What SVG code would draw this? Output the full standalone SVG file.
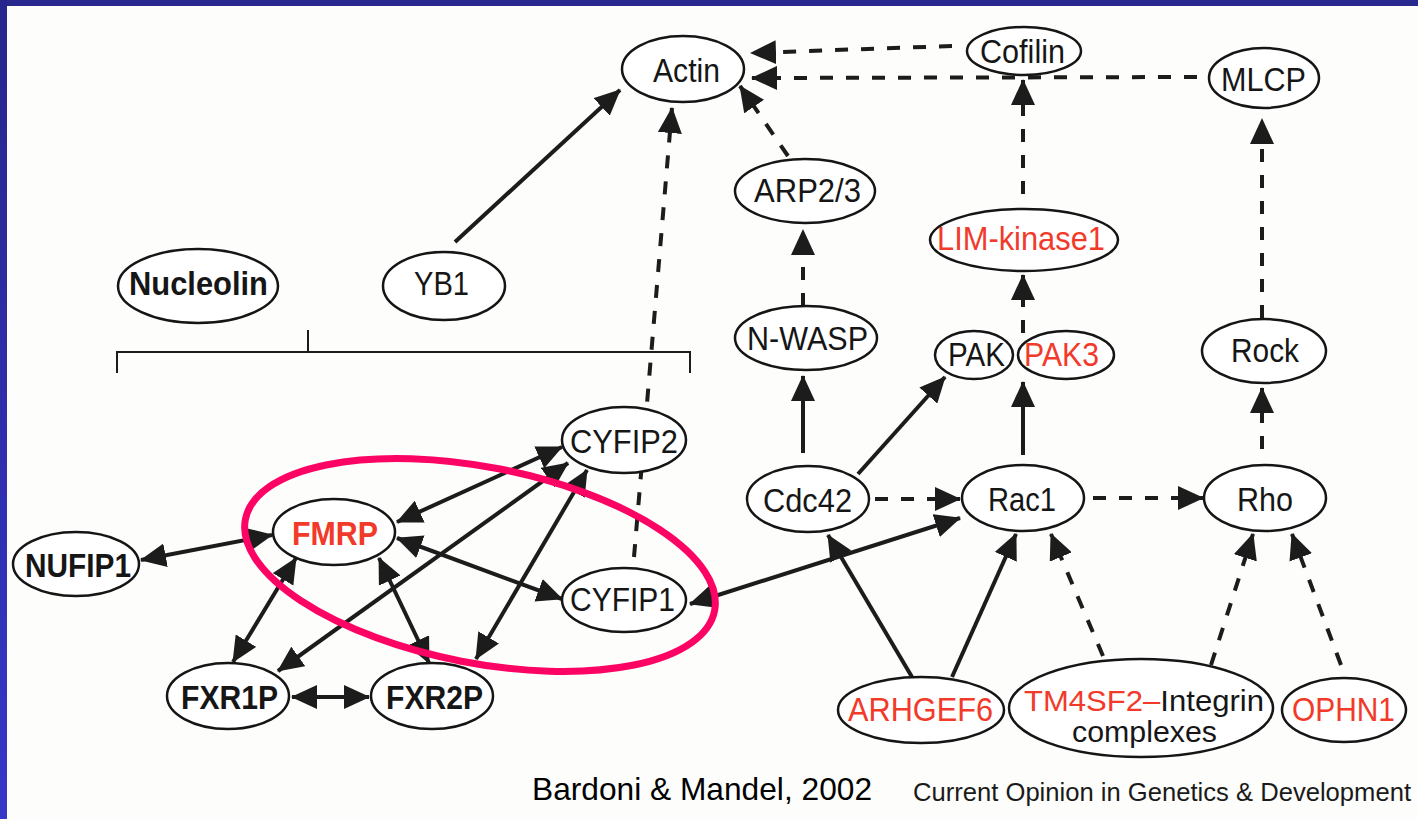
<svg xmlns="http://www.w3.org/2000/svg" width="1418" height="819" viewBox="0 0 1418 819">
<style>
.n ellipse{fill:#fff;stroke:#151515;stroke-width:2.5}
text{font-family:"Liberation Sans",Arial,Helvetica,sans-serif;font-size:33px;fill:#161616}
.b{font-weight:bold}
.r{fill:#f23a2a}
.c line{stroke:#1c1c1c;stroke-width:4;fill:none;marker-end:url(#ah)}
.c .d{stroke-dasharray:13 13}
.c .bi{marker-start:url(#ah)}
</style>
<defs>
<linearGradient id="lb" x1="0" y1="0" x2="0" y2="1">
<stop offset="0" stop-color="#26268c"/>
<stop offset="1" stop-color="#3636c9"/>
</linearGradient>
<marker id="ah" viewBox="0 0 26 24" refX="25" refY="12" markerWidth="26" markerHeight="24" markerUnits="userSpaceOnUse" orient="auto-start-reverse">
<path d="M0,0 L26,12 L0,24 z" fill="#1c1c1c"/>
</marker>
</defs>
<rect x="0" y="0" width="1418" height="819" fill="#fdfdfb"/>
<rect x="0" y="0" width="1418" height="6" fill="#28288f"/>
<rect x="0" y="0" width="7" height="819" fill="url(#lb)"/>

<g id="bracket" fill="none" stroke="#1c1c1c" stroke-width="2">
<path d="M117,373 V352 H690 V373"/>
<path d="M308,352 V330"/>
</g>

<g id="connectors" class="c">
<line x1="455" y1="242" x2="620" y2="90"/>
<line class="d" x1="634" y1="557" x2="672" y2="108"/>
<line class="d" x1="788" y1="156" x2="740" y2="86"/>
<line class="d" x1="952" y1="46" x2="751" y2="53"/>
<line class="d" x1="1197" y1="77" x2="752" y2="78"/>
<line class="d" x1="1023" y1="194" x2="1023" y2="80"/>
<line class="d" x1="1023" y1="333" x2="1023" y2="275"/>
<line class="d" x1="1262" y1="318" x2="1262" y2="119"/>
<line class="d" x1="803" y1="306" x2="803" y2="230"/>
<line x1="803" y1="453" x2="803" y2="376"/>
<line x1="858" y1="474" x2="945" y2="377"/>
<line x1="1023" y1="455" x2="1023" y2="382"/>
<line class="d" x1="875" y1="499" x2="960" y2="499"/>
<line class="d" x1="1093" y1="498" x2="1203" y2="498"/>
<line class="d" x1="1262" y1="449" x2="1262" y2="388"/>
<line class="bi" x1="690" y1="604" x2="960" y2="518"/>
<line x1="912" y1="677" x2="828" y2="535"/>
<line x1="952" y1="677" x2="1016" y2="534"/>
<line class="d" x1="1103" y1="656" x2="1051" y2="534"/>
<line class="d" x1="1211" y1="665" x2="1253" y2="534"/>
<line class="d" x1="1341" y1="665" x2="1292" y2="534"/>
<line class="bi" x1="141" y1="560" x2="272" y2="535"/>
<line class="bi" x1="397" y1="522" x2="562" y2="447"/>
<line class="bi" x1="397" y1="538" x2="562" y2="599"/>
<line class="bi" x1="278" y1="671" x2="568" y2="463"/>
<line class="bi" x1="476" y1="659" x2="587" y2="470"/>
<line class="bi" x1="233" y1="662" x2="296" y2="558"/>
<line class="bi" x1="429" y1="663" x2="379" y2="558"/>
<line class="bi" x1="292" y1="697" x2="369" y2="697"/>
</g>

<g id="actin" class="n"><ellipse cx="683" cy="69" rx="61" ry="33"/><text x="653" y="82" textLength="67" lengthAdjust="spacingAndGlyphs">Actin</text></g>
<g id="cofilin" class="n"><ellipse cx="1024" cy="51" rx="57" ry="24"/><text x="980" y="63" textLength="85" lengthAdjust="spacingAndGlyphs">Cofilin</text></g>
<g id="mlcp" class="n"><ellipse cx="1264" cy="78" rx="55" ry="30"/><text x="1221" y="91" textLength="85" lengthAdjust="spacingAndGlyphs">MLCP</text></g>
<g id="arp23" class="n"><ellipse cx="805" cy="191" rx="70" ry="32"/><text x="754" y="202" textLength="107" lengthAdjust="spacingAndGlyphs">ARP2/3</text></g>
<g id="limk1" class="n"><ellipse cx="1024" cy="240" rx="94" ry="31"/><text class="r" x="937" y="250" textLength="168" lengthAdjust="spacingAndGlyphs">LIM-kinase1</text></g>
<g id="nucleolin" class="n"><ellipse cx="198" cy="286" rx="80" ry="37"/><text class="b" x="129" y="295" textLength="139" lengthAdjust="spacingAndGlyphs">Nucleolin</text></g>
<g id="yb1" class="n"><ellipse cx="444" cy="286" rx="61" ry="34"/><text x="414" y="295" textLength="55" lengthAdjust="spacingAndGlyphs">YB1</text></g>
<g id="nwasp" class="n"><ellipse cx="806" cy="338" rx="71" ry="32"/><text x="747" y="350" textLength="121" lengthAdjust="spacingAndGlyphs">N-WASP</text></g>
<g id="pak" class="n"><ellipse cx="974" cy="355" rx="39" ry="24"/><text x="948" y="366" textLength="57" lengthAdjust="spacingAndGlyphs">PAK</text></g>
<g id="pak3" class="n"><ellipse cx="1066" cy="355" rx="48" ry="24"/><text class="r" x="1024" y="366" textLength="75" lengthAdjust="spacingAndGlyphs">PAK3</text></g>
<g id="rock" class="n"><ellipse cx="1264" cy="351" rx="62" ry="32"/><text x="1231" y="362" textLength="68" lengthAdjust="spacingAndGlyphs">Rock</text></g>
<g id="cyfip2" class="n"><ellipse cx="624" cy="440" rx="62" ry="33"/><text x="570" y="453" textLength="108" lengthAdjust="spacingAndGlyphs">CYFIP2</text></g>
<g id="cdc42" class="n"><ellipse cx="808" cy="499" rx="61" ry="33"/><text x="763" y="512" textLength="89" lengthAdjust="spacingAndGlyphs">Cdc42</text></g>
<g id="rac1" class="n"><ellipse cx="1023" cy="498" rx="61" ry="33"/><text x="988" y="511" textLength="68" lengthAdjust="spacingAndGlyphs">Rac1</text></g>
<g id="rho" class="n"><ellipse cx="1265" cy="498" rx="61" ry="33"/><text x="1237" y="511" textLength="56" lengthAdjust="spacingAndGlyphs">Rho</text></g>
<g id="fmrp" class="n"><ellipse cx="334" cy="532" rx="61" ry="33"/><text class="b r" x="292" y="545" textLength="86" lengthAdjust="spacingAndGlyphs">FMRP</text></g>
<g id="nufip1" class="n"><ellipse cx="76" cy="564" rx="63" ry="32"/><text class="b" x="25" y="577" textLength="106" lengthAdjust="spacingAndGlyphs">NUFIP1</text></g>
<g id="cyfip1" class="n"><ellipse cx="624" cy="600" rx="62" ry="32"/><text x="570" y="611" textLength="105" lengthAdjust="spacingAndGlyphs">CYFIP1</text></g>
<g id="fxr1p" class="n"><ellipse cx="228" cy="696" rx="61" ry="33"/><text class="b" x="181" y="709" textLength="97" lengthAdjust="spacingAndGlyphs">FXR1P</text></g>
<g id="fxr2p" class="n"><ellipse cx="432" cy="696" rx="61" ry="33"/><text class="b" x="386" y="709" textLength="97" lengthAdjust="spacingAndGlyphs">FXR2P</text></g>
<g id="arhgef6" class="n"><ellipse cx="921" cy="710" rx="83" ry="33"/><text class="r" x="848" y="721" textLength="145" lengthAdjust="spacingAndGlyphs">ARHGEF6</text></g>
<g id="tm4sf2" class="n"><ellipse cx="1141" cy="708" rx="132" ry="49"/><text x="1024" y="711" textLength="240" lengthAdjust="spacingAndGlyphs" style="font-size:30px"><tspan class="r">TM4SF2–</tspan>Integrin</text><text x="1072" y="742" textLength="145" lengthAdjust="spacingAndGlyphs" style="font-size:30px">complexes</text></g>
<g id="ophn1" class="n"><ellipse cx="1344" cy="710" rx="62" ry="32"/><text class="r" x="1292" y="721" textLength="103" lengthAdjust="spacingAndGlyphs">OPHN1</text></g>

<ellipse id="highlight" cx="480" cy="565" rx="239" ry="98" transform="rotate(11 480 565)" fill="none" stroke="#fb0464" stroke-width="7"/>

<text x="532" y="800" textLength="340" lengthAdjust="spacingAndGlyphs" style="font-size:32px;fill:#000">Bardoni &amp; Mandel, 2002</text>
<text x="913" y="801" textLength="498" lengthAdjust="spacingAndGlyphs" style="font-size:26px;fill:#1a1a1a">Current Opinion in Genetics &amp; Development</text>
</svg>
